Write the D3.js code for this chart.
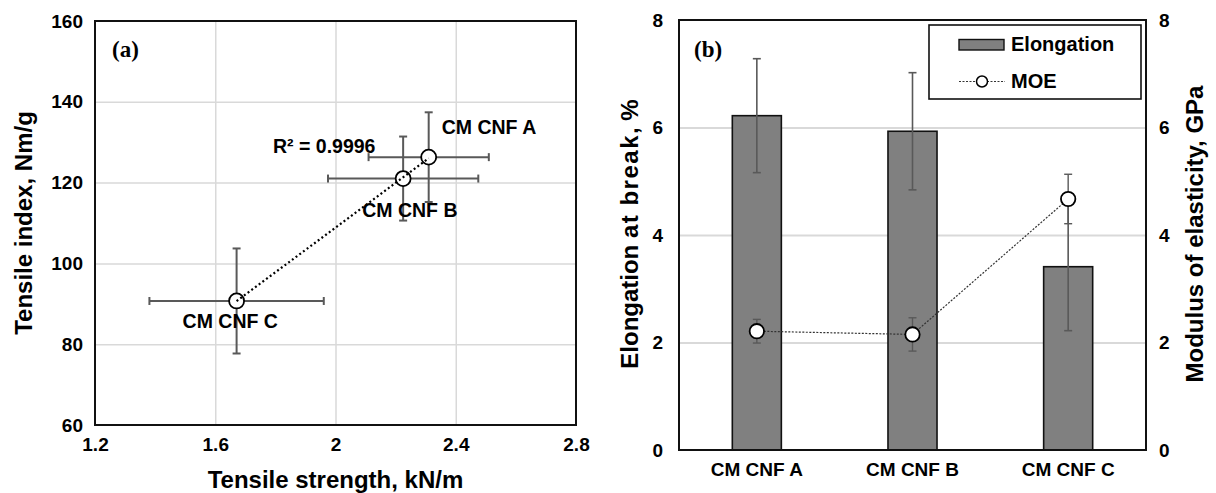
<!DOCTYPE html>
<html>
<head>
<meta charset="utf-8">
<script src="https://cdn.jsdelivr.net/npm/d3@7"></script>
<style>
  html, body { margin: 0; padding: 0; background: #fff; }
  svg { display: block; }
  text { font-family: "Liberation Sans", Arial, sans-serif; font-weight: bold; fill: #000; }
</style>
</head>
<body>
<svg id="chart" width="1216" height="493"></svg>
<script>
// ---------- Data: panel (a) ----------
const samplesA = ["CM CNF A", "CM CNF B", "CM CNF C"];
const tensileStrength = [2.31, 2.225, 1.671];
const tensileStrengthErr = [0.20, 0.25, 0.29];
const tensileIndex = [126.3, 121.0, 90.7];
const tensileIndexErr = [11.1, 10.4, 13.0];
const xTicksA = [1.2, 1.6, 2.0, 2.4, 2.8];
const yTicksA = [60, 80, 100, 120, 140, 160];
const r2Label = "R² = 0.9996";

// ---------- Data: panel (b) ----------
const samplesB = ["CM CNF A", "CM CNF B", "CM CNF C"];
const elongation = [6.22, 5.93, 3.41];
const elongationErr = [1.06, 1.09, 1.19];
const moe = [2.21, 2.15, 4.67];
const moeErr = [0.22, 0.31, 0.46];
const yTicksB = [0, 2, 4, 6, 8];

const svg = d3.select("#chart");
svg.append("rect").attr("width", 1216).attr("height", 493).attr("fill", "#fff");

const FONT_TICK = "19px";
const FONT_TITLE = "24px";
const GRID = "#d9d9d9";
const ERR = "#595959";

// ================= Panel (a) =================
const A = { left: 95, right: 576, top: 21, bottom: 425 };
const xA = d3.scaleLinear().domain([1.2, 2.8]).range([A.left, A.right]);
const yA = d3.scaleLinear().domain([60, 160]).range([A.bottom, A.top]);
const gA = svg.append("g");

// gridlines
gA.append("g").attr("transform", `translate(0,${A.bottom})`)
  .call(d3.axisBottom(xA).tickValues(xTicksA.slice(1, -1)).tickSize(-(A.bottom - A.top)).tickFormat(""))
  .call(g => g.select(".domain").remove())
  .call(g => g.selectAll("line").attr("stroke", GRID).attr("stroke-width", 1.5));
gA.append("g").attr("transform", `translate(${A.left},0)`)
  .call(d3.axisLeft(yA).tickValues(yTicksA.slice(1, -1)).tickSize(-(A.right - A.left)).tickFormat(""))
  .call(g => g.select(".domain").remove())
  .call(g => g.selectAll("line").attr("stroke", GRID).attr("stroke-width", 1.5));

// axes labels
gA.append("g").attr("transform", `translate(0,${A.bottom})`)
  .call(d3.axisBottom(xA).tickValues(xTicksA).tickSize(0).tickPadding(13).tickFormat(d => String(d)))
  .call(g => g.select(".domain").remove())
  .call(g => g.selectAll("text").style("font-size", FONT_TICK).attr("fill", "#000"));
gA.append("g").attr("transform", `translate(${A.left},0)`)
  .call(d3.axisLeft(yA).tickValues(yTicksA).tickSize(0).tickPadding(12).tickFormat(d => String(d)))
  .call(g => g.select(".domain").remove())
  .call(g => g.selectAll("text").style("font-size", FONT_TICK).attr("fill", "#000"));

// border
gA.append("rect").attr("x", A.left).attr("y", A.top)
  .attr("width", A.right - A.left).attr("height", A.bottom - A.top)
  .attr("fill", "none").attr("stroke", "#111").attr("stroke-width", 2);

const ptsA = samplesA.map((s, i) => ({
  name: s, x: tensileStrength[i], xe: tensileStrengthErr[i], y: tensileIndex[i], ye: tensileIndexErr[i]
}));

// error bars
const errA = gA.append("g").attr("stroke", ERR).attr("stroke-width", 2).attr("fill", "none");
ptsA.forEach(p => {
  const cx = xA(p.x), cy = yA(p.y);
  const x0 = xA(p.x - p.xe), x1 = xA(p.x + p.xe);
  const y0 = yA(p.y - p.ye), y1 = yA(p.y + p.ye);
  errA.append("line").attr("x1", x0).attr("x2", x1).attr("y1", cy).attr("y2", cy);
  errA.append("line").attr("x1", x0).attr("x2", x0).attr("y1", cy - 4).attr("y2", cy + 4);
  errA.append("line").attr("x1", x1).attr("x2", x1).attr("y1", cy - 4).attr("y2", cy + 4);
  errA.append("line").attr("x1", cx).attr("x2", cx).attr("y1", y0).attr("y2", y1);
  errA.append("line").attr("x1", cx - 4).attr("x2", cx + 4).attr("y1", y0).attr("y2", y0);
  errA.append("line").attr("x1", cx - 4).attr("x2", cx + 4).attr("y1", y1).attr("y2", y1);
});

// markers
gA.selectAll("circle.pt").data(ptsA).join("circle")
  .attr("class", "pt")
  .attr("cx", d => xA(d.x)).attr("cy", d => yA(d.y)).attr("r", 7.5)
  .attr("fill", "#fff").attr("stroke", "#000").attr("stroke-width", 1.8);

// linear trendline (least squares over data)
const mx = d3.mean(tensileStrength), my = d3.mean(tensileIndex);
const sxy = d3.sum(tensileStrength.map((v, i) => (v - mx) * (tensileIndex[i] - my)));
const sxx = d3.sum(tensileStrength.map(v => (v - mx) * (v - mx)));
const slope = sxy / sxx, icpt = my - slope * mx;
const [tx0, tx1] = d3.extent(tensileStrength);
gA.append("line")
  .attr("x1", xA(tx0)).attr("y1", yA(slope * tx0 + icpt))
  .attr("x2", xA(tx1)).attr("y2", yA(slope * tx1 + icpt))
  .attr("stroke", "#000").attr("stroke-width", 2.2).attr("stroke-dasharray", "2,2.6");

// data labels
const labelOffsets = [[13, -23], [-41, 38], [-54, 27]];
gA.selectAll("text.dl").data(ptsA).join("text")
  .attr("class", "dl")
  .attr("x", (d, i) => xA(d.x) + labelOffsets[i][0])
  .attr("y", (d, i) => yA(d.y) + labelOffsets[i][1])
  .style("font-size", "19.5px")
  .text(d => d.name);

gA.append("text").attr("x", 273).attr("y", 153).style("font-size", "19.5px").text(r2Label);

gA.append("text").attr("x", 112).attr("y", 57)
  .style("font-family", "'Liberation Serif', 'Times New Roman', serif").style("font-size", "23px")
  .text("(a)");

// axis titles
gA.append("text").attr("x", (A.left + A.right) / 2).attr("y", 488)
  .attr("text-anchor", "middle").style("font-size", FONT_TITLE).text("Tensile strength, kN/m");
gA.append("text").attr("transform", `translate(32,${(A.top + A.bottom) / 2}) rotate(-90)`)
  .attr("text-anchor", "middle").style("font-size", FONT_TITLE).text("Tensile index, Nm/g");

// ================= Panel (b) =================
const B = { left: 679, right: 1146, top: 20, bottom: 450 };
const xB = d3.scaleBand().domain(samplesB).range([B.left, B.right]).paddingInner(0.685).paddingOuter(0.3425);
const yB = d3.scaleLinear().domain([0, 8]).range([B.bottom, B.top]);
const yB2 = d3.scaleLinear().domain([0, 8]).range([B.bottom, B.top]);
const gB = svg.append("g");

gB.append("g").attr("transform", `translate(${B.left},0)`)
  .call(d3.axisLeft(yB).tickValues(yTicksB.slice(1, -1)).tickSize(-(B.right - B.left)).tickFormat(""))
  .call(g => g.select(".domain").remove())
  .call(g => g.selectAll("line").attr("stroke", GRID).attr("stroke-width", 2));

gB.append("g").attr("transform", `translate(${B.left},0)`)
  .call(d3.axisLeft(yB).tickValues(yTicksB).tickSize(0).tickPadding(16).tickFormat(d => String(d)))
  .call(g => g.select(".domain").remove())
  .call(g => g.selectAll("text").style("font-size", FONT_TICK).attr("fill", "#000"));
gB.append("g").attr("transform", `translate(${B.right},0)`)
  .call(d3.axisRight(yB2).tickValues(yTicksB).tickSize(0).tickPadding(13).tickFormat(d => String(d)))
  .call(g => g.select(".domain").remove())
  .call(g => g.selectAll("text").style("font-size", FONT_TICK).attr("fill", "#000"));
gB.append("g").attr("transform", `translate(0,${B.bottom})`)
  .call(d3.axisBottom(xB).tickSize(0).tickPadding(13))
  .call(g => g.select(".domain").remove())
  .call(g => g.selectAll("text").style("font-size", FONT_TICK).attr("fill", "#000"));

// bars
const barsData = samplesB.map((s, i) => ({ name: s, v: elongation[i], e: elongationErr[i], m: moe[i], me: moeErr[i] }));
gB.selectAll("rect.bar").data(barsData).join("rect")
  .attr("class", "bar")
  .attr("x", d => xB(d.name)).attr("width", xB.bandwidth())
  .attr("y", d => yB(d.v)).attr("height", d => yB(0) - yB(d.v))
  .attr("fill", "#808080").attr("stroke", "#111").attr("stroke-width", 1.6);

// elongation error bars
const errB = gB.append("g").attr("stroke", ERR).attr("stroke-width", 1.6);
barsData.forEach(d => {
  const cx = xB(d.name) + xB.bandwidth() / 2;
  const y0 = yB(d.v - d.e), y1 = yB(d.v + d.e);
  errB.append("line").attr("x1", cx).attr("x2", cx).attr("y1", y0).attr("y2", y1);
  errB.append("line").attr("x1", cx - 4).attr("x2", cx + 4).attr("y1", y0).attr("y2", y0);
  errB.append("line").attr("x1", cx - 4).attr("x2", cx + 4).attr("y1", y1).attr("y2", y1);
});

// border
gB.append("rect").attr("x", B.left).attr("y", B.top)
  .attr("width", B.right - B.left).attr("height", B.bottom - B.top)
  .attr("fill", "none").attr("stroke", "#111").attr("stroke-width", 2);

// MOE line
const cxB = d => xB(d.name) + xB.bandwidth() / 2;
gB.append("path").datum(barsData)
  .attr("d", d3.line().x(cxB).y(d => yB2(d.m)))
  .attr("fill", "none").attr("stroke", "#333").attr("stroke-width", 1.2).attr("stroke-dasharray", "2,1.5");

// MOE error bars
const errM = gB.append("g").attr("stroke", ERR).attr("stroke-width", 1.4);
barsData.forEach(d => {
  const cx = cxB(d);
  const y0 = yB2(d.m - d.me), y1 = yB2(d.m + d.me);
  errM.append("line").attr("x1", cx).attr("x2", cx).attr("y1", y0).attr("y2", y1);
  errM.append("line").attr("x1", cx - 4).attr("x2", cx + 4).attr("y1", y0).attr("y2", y0);
  errM.append("line").attr("x1", cx - 4).attr("x2", cx + 4).attr("y1", y1).attr("y2", y1);
});

gB.selectAll("circle.moe").data(barsData).join("circle")
  .attr("class", "moe")
  .attr("cx", cxB).attr("cy", d => yB2(d.m)).attr("r", 7.2)
  .attr("fill", "#fff").attr("stroke", "#000").attr("stroke-width", 1.8);

gB.append("text").attr("x", 694).attr("y", 57)
  .style("font-family", "'Liberation Serif', 'Times New Roman', serif").style("font-size", "23px")
  .text("(b)");

// legend
const lg = gB.append("g");
lg.append("rect").attr("x", 929).attr("y", 25).attr("width", 212).attr("height", 74)
  .attr("fill", "#fff").attr("stroke", "#111").attr("stroke-width", 1.6);
lg.append("rect").attr("x", 959).attr("y", 39.5).attr("width", 45).attr("height", 10.5)
  .attr("fill", "#808080").attr("stroke", "#111").attr("stroke-width", 1.4);
lg.append("text").attr("x", 1011).attr("y", 51).style("font-size", "20px").text("Elongation");
lg.append("line").attr("x1", 959).attr("x2", 1005).attr("y1", 81.5).attr("y2", 81.5)
  .attr("stroke", "#333").attr("stroke-width", 1.2).attr("stroke-dasharray", "2,1.5");
lg.append("circle").attr("cx", 982).attr("cy", 81.5).attr("r", 5.5)
  .attr("fill", "#fff").attr("stroke", "#000").attr("stroke-width", 1.5);
lg.append("text").attr("x", 1011).attr("y", 88).style("font-size", "20px").text("MOE");

// axis titles
const lt = gB.append("text").attr("transform", `translate(638,234) rotate(-90)`)
  .attr("text-anchor", "middle").style("font-size", FONT_TITLE);
lt.append("tspan").text("Elongation ");
lt.append("tspan").style("letter-spacing", "1.5px").text("at break");
lt.append("tspan").text(", %");
gB.append("text").attr("transform", `translate(1203,234) rotate(-90)`)
  .attr("text-anchor", "middle").style("font-size", FONT_TITLE).text("Modulus of elasticity, GPa");
</script>
</body>
</html>
